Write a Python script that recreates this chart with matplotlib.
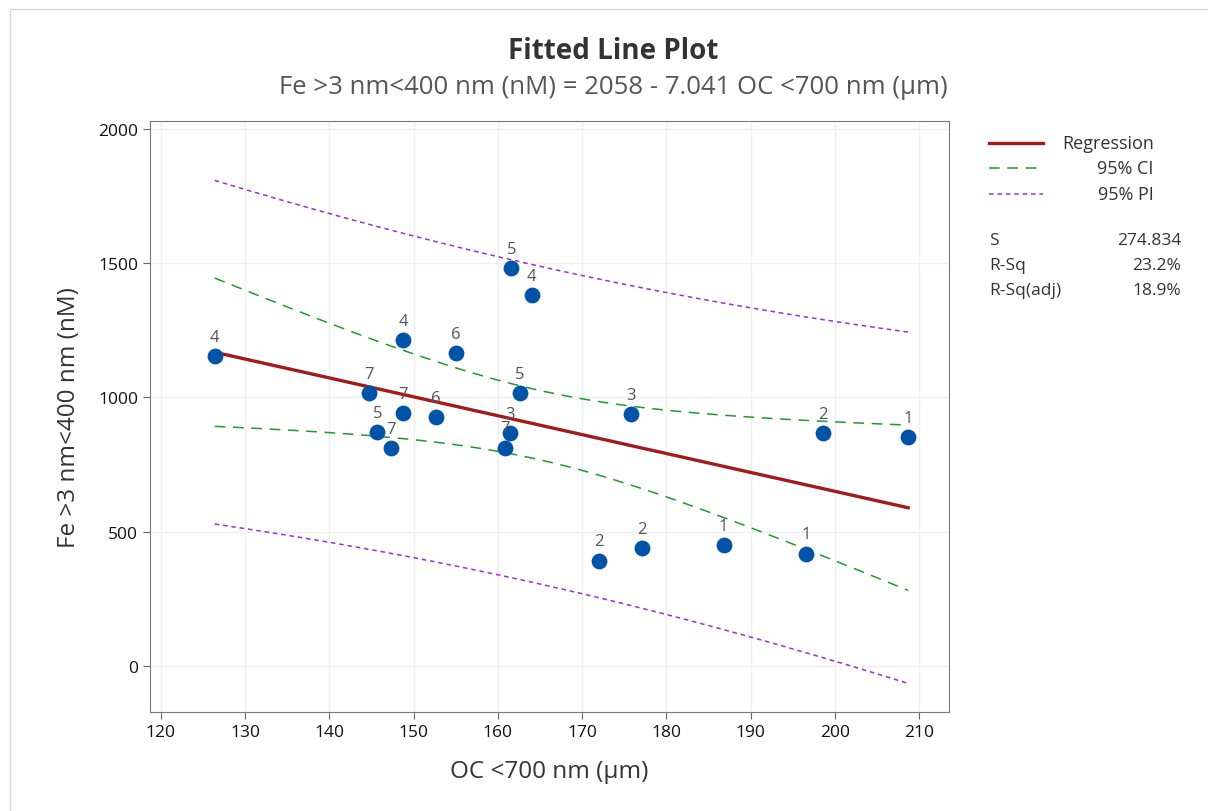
import numpy as np
import matplotlib
matplotlib.use("Agg")
import matplotlib.pyplot as plt
from matplotlib.lines import Line2D
from matplotlib.patches import Rectangle

plt.rcParams["font.family"] = ["Open Sans", "DejaVu Sans"]

# data: OC <700 nm (um) vs Fe >3 nm<400 nm (nM), with point labels
oc = [126.4, 144.7, 148.8, 148.8, 145.7, 147.3, 152.7, 155.0, 161.6, 164.0,
      162.6, 161.4, 160.9, 172.0, 177.1, 186.8, 196.6, 175.8, 198.6, 208.7]
fe = [1153, 1015, 1213, 940, 869, 810, 925, 1164, 1481, 1381,
      1015, 866, 813, 392, 437, 448, 418, 937, 866, 851]
point_labels = ["4", "7", "4", "7", "5", "7", "6", "6", "5", "4",
                "5", "3", "7", "2", "2", "1", "1", "3", "2", "1"]

b0, b1 = 2058, -7.041
s_val = 274.834
stats_names = ["S", "R-Sq", "R-Sq(adj)"]
stats_vals = ["274.834", "23.2%", "18.9%"]
t_crit = 2.101  # t(0.975, 18)

x = np.array(oc)
y = np.array(fe)
n = len(x)
xbar = x.mean()
sxx = ((x - xbar) ** 2).sum()
xs = np.linspace(x.min(), x.max(), 200)
yhat = b0 + b1 * xs
se_fit = s_val * np.sqrt(1 / n + (xs - xbar) ** 2 / sxx)
se_pred = s_val * np.sqrt(1 + 1 / n + (xs - xbar) ** 2 / sxx)

fig = plt.figure(figsize=(12.08, 8.12), dpi=100)
fig.patches.append(Rectangle((0.008, -0.01), 1.0, 0.998, transform=fig.transFigure,
                             fill=False, edgecolor="#d8d8d8", linewidth=1))
ax = fig.add_axes([0.124, 0.122, 0.662, 0.728])

ax.grid(True, color="#efefef", linewidth=1)
ax.set_axisbelow(True)

ax.plot(xs, yhat + t_crit * se_pred, color="#9a2fd6", linestyle=(0, (3, 2.5)), lw=1.1)
ax.plot(xs, yhat - t_crit * se_pred, color="#9a2fd6", linestyle=(0, (3, 2.5)), lw=1.1)
ax.plot(xs, yhat + t_crit * se_fit, color="#1f9a2e", linestyle=(0, (7, 5)), lw=1.1)
ax.plot(xs, yhat - t_crit * se_fit, color="#1f9a2e", linestyle=(0, (7, 5)), lw=1.1)
ax.plot(xs, yhat, color="#a31a1a", lw=2.4)

ax.scatter(x, y, s=130, color="#0053a6", zorder=5, linewidths=0)
for xi, yi, lab in zip(x, y, point_labels):
    ax.annotate(lab, (xi, yi), xytext=(0, 8), textcoords="offset points",
                ha="center", va="bottom", fontsize=12, color="#555555", zorder=6)

ax.set_xlim(118.7, 213.6)
ax.set_ylim(-172, 2030)
ax.set_xticks(np.arange(120, 211, 10))
ax.set_yticks([0, 500, 1000, 1500, 2000])
ax.tick_params(labelsize=12.5, colors="#111111", length=5, color="#666666")
for sp in ax.spines.values():
    sp.set_color("#777777")

ax.set_xlabel("OC <700 nm (µm)", fontsize=17.5, color="#333333", labelpad=14)
ax.set_ylabel("Fe >3 nm<400 nm (nM)", fontsize=17.5, color="#333333", labelpad=12)

fig.text(0.508, 0.936, "Fitted Line Plot", ha="center", va="center", fontsize=20,
         weight="bold", color="#333333")
fig.text(0.508, 0.892, "Fe >3 nm<400 nm (nM) = 2058 - 7.041 OC <700 nm (µm)",
         ha="center", va="center", fontsize=18.5, color="#555555")

# legend box drawn by hand
leg_items = [("Regression", "#a31a1a", "-", 2.4),
             ("95% CI", "#1f9a2e", (0, (7, 5)), 1.1),
             ("95% PI", "#9a2fd6", (0, (3, 2.5)), 1.1)]
y0 = 0.823
for i, (lab, col, ls, lw) in enumerate(leg_items):
    yy = y0 - i * 0.0315
    fig.add_artist(Line2D([0.819, 0.863], [yy, yy], color=col, linestyle=ls, lw=lw,
                          transform=fig.transFigure))
    fig.text(0.955, yy, lab, ha="right", va="center", fontsize=13, color="#333333")

for i, (nm, val) in enumerate(zip(stats_names, stats_vals)):
    yy = 0.703 - i * 0.0305
    fig.text(0.819, yy, nm, ha="left", va="center", fontsize=12.5, color="#333333")
    fig.text(0.978, yy, val, ha="right", va="center", fontsize=12.5, color="#333333")

fig.savefig("out.png", dpi=100)
